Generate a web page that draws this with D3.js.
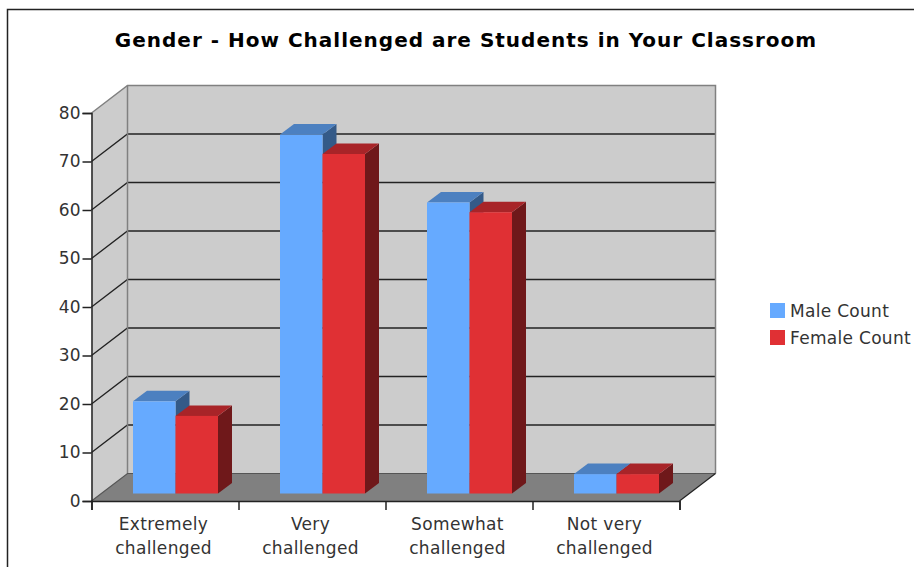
<!DOCTYPE html>
<html>
<head>
<meta charset="utf-8">
<script src="https://cdn.jsdelivr.net/npm/d3@7"></script>
<style>
  html, body { margin: 0; padding: 0; background: #fff; }
  svg { display: block; }
  text { font-family: "DejaVu Sans", sans-serif; fill: #333; }
</style>
</head>
<body>
<div id="chart"></div>
<script>
const categories = [['Extremely', 'challenged'], ['Very', 'challenged'], ['Somewhat', 'challenged'], ['Not very', 'challenged']];
const seriesNames = ['Male Count', 'Female Count'];
const maleCount = [19, 74, 60, 4];
const femaleCount = [16, 70, 58, 4];
const yTicks = [0, 10, 20, 30, 40, 50, 60, 70, 80];
const title = 'Gender - How Challenged are Students in Your Classroom';

const width = 914;
const height = 567;
const plot = { left: 91.5, right: 679.5, top: 113, bottom: 501 };
// how far the back wall sits from the front of the box
const depth = { x: 36, y: 27.5 };
// bars stand a bit in from the front and have their own smaller depth
const barInset = 7.5;
const barDepth = { x: 14, y: 10.5 };

const colors = {
  male: { front: '#66aaff', top: '#4c80c0', side: '#345a88' },
  female: { front: '#e03034', top: '#a82428', side: '#6f181a' }
};

const svg = d3.select('#chart').append('svg').
attr('width', width).
attr('height', height);

const y = d3.scaleLinear().domain([0, 80]).range([plot.bottom, plot.top]);
const xEdge = d3.scaleLinear().domain([0, categories.length]).range([plot.left, plot.right]);
const x0 = d3.scaleBand().domain(d3.range(categories.length)).range([plot.left, plot.right]);
const x1 = d3.scaleBand().domain(seriesNames).range([41.5, 126.5]);

// outer frame
svg.append('path').
attr('d', 'M7.5,567V9.5H914').
attr('fill', 'none').
attr('stroke', '#222').
attr('stroke-width', 1.5);

// walls and floor
const wallColor = '#cccccc';
const edgeColor = '#808080';
svg.append('polygon').
attr('points', [[plot.left, y(80)], [plot.left + depth.x, y(80) - depth.y], [plot.left + depth.x, y(0) - depth.y], [plot.left, y(0)]].join(' ')).
attr('fill', wallColor);
svg.append('rect').
attr('x', plot.left + depth.x).
attr('y', y(80) - depth.y).
attr('width', plot.right - plot.left).
attr('height', y(0) - y(80)).
attr('fill', wallColor);
svg.append('polygon').
attr('points', [[plot.left, y(0)], [plot.left + depth.x, y(0) - depth.y], [plot.right + depth.x, y(0) - depth.y], [plot.right, y(0)]].join(' ')).
attr('fill', edgeColor);

// gridlines
const grid = svg.append('g').attr('fill', 'none');
grid.selectAll('path').
data(yTicks.filter(d => d > 0 && d < 80)).
enter().
append('path').
attr('d', d => 'M' + plot.left + ',' + y(d) + 'L' + (plot.left + depth.x) + ',' + (y(d) - depth.y) + 'H' + (plot.right + depth.x)).
attr('stroke', '#222').
attr('stroke-width', 1.3);

// wall edges
svg.append('path').
attr('d', 'M' + plot.left + ',' + y(80) + 'L' + (plot.left + depth.x) + ',' + (y(80) - depth.y) + 'H' + (plot.right + depth.x) + 'V' + (y(0) - depth.y)).
attr('fill', 'none').
attr('stroke', edgeColor).
attr('stroke-width', 1.5);
svg.append('path').
attr('d', 'M' + (plot.left + depth.x) + ',' + (y(80) - depth.y) + 'V' + (y(0) - depth.y)).
attr('fill', 'none').
attr('stroke', edgeColor).
attr('stroke-width', 1.5);
svg.append('path').
attr('d', 'M' + plot.left + ',' + y(0) + 'L' + (plot.left + depth.x) + ',' + (y(0) - depth.y) + 'H' + (plot.right + depth.x)).
attr('fill', 'none').
attr('stroke', '#555').
attr('stroke-width', 1.2);
svg.append('path').
attr('d', 'M' + plot.right + ',' + y(0) + 'L' + (plot.right + depth.x) + ',' + (y(0) - depth.y)).
attr('fill', 'none').
attr('stroke', '#222').
attr('stroke-width', 1.2);

// bars, drawn back to front so the red one covers the blue side
function drawBar(g, x, w, value, c) {
  const top = y(value) - barInset;
  const base = y(0) - barInset;
  g.append('polygon').
  attr('points', [[x + w, top], [x + w + barDepth.x, top - barDepth.y], [x + w + barDepth.x, base - barDepth.y], [x + w, base]].join(' ')).
  attr('fill', c.side);
  g.append('polygon').
  attr('points', [[x, top], [x + barDepth.x, top - barDepth.y], [x + w + barDepth.x, top - barDepth.y], [x + w, top]].join(' ')).
  attr('fill', c.top);
  g.append('rect').
  attr('x', x).
  attr('y', top).
  attr('width', w).
  attr('height', base - top).
  attr('fill', c.front);
}

const bars = svg.append('g');
categories.forEach(function (cat, i) {
  drawBar(bars, x0(i) + x1(seriesNames[0]), x1.bandwidth(), maleCount[i], colors.male);
  drawBar(bars, x0(i) + x1(seriesNames[1]), x1.bandwidth(), femaleCount[i], colors.female);
});

// axes
const yAxis = d3.axisLeft(y).tickValues(yTicks).tickSize(9).tickPadding(2);
const yAxisG = svg.append('g').
attr('transform', 'translate(' + plot.left + ',0)').
call(yAxis);
yAxisG.selectAll('text').style('font-size', '17px').attr('fill', '#333');

const xAxis = d3.axisBottom(xEdge).ticks(categories.length).tickSize(9).tickFormat('');
svg.append('g').
attr('transform', 'translate(0,' + plot.bottom + ')').
call(xAxis);
svg.selectAll('.domain, .tick line').attr('stroke', '#222').attr('stroke-width', 1.5);

const xLabels = svg.append('g').selectAll('text').
data(categories).
enter().
append('text').
attr('text-anchor', 'middle').
style('font-size', '17px').
style('letter-spacing', '0.35px').
attr('transform', (d, i) => 'translate(' + (x0(i) + x0.bandwidth() / 2 - 1.5) + ',0)');
xLabels.selectAll('tspan').
data(d => d).
enter().
append('tspan').
attr('x', 0).
attr('y', (d, i) => 530 + i * 24).
text(d => d);

// title
svg.append('text').
attr('x', 466).
attr('y', 47).
attr('text-anchor', 'middle').
style('font-size', '20px').
style('font-weight', 'bold').
style('letter-spacing', '1px').
style('fill', '#000').
text(title);

// legend
const legend = svg.append('g').selectAll('g').
data(seriesNames).
enter().
append('g').
attr('transform', (d, i) => 'translate(770,' + (303 + i * 27) + ')');
legend.append('rect').
attr('width', 15).
attr('height', 15).
attr('fill', (d, i) => i === 0 ? colors.male.front : colors.female.front);
legend.append('text').
attr('x', 20).
attr('y', 14).
style('font-size', '17px').
style('letter-spacing', '0.3px').
text(d => d);
</script>
</body>
</html>
